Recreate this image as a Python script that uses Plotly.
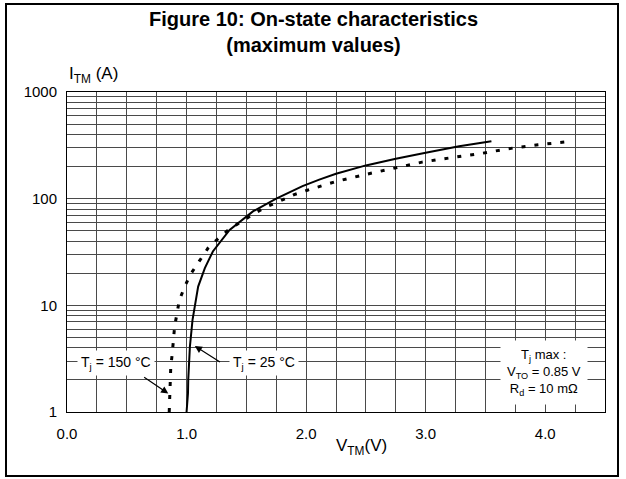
import math
import plotly.graph_objects as go

# ---- data ----
v_25c = [1.0, 1.012, 1.014, 1.028, 1.05, 1.07, 1.097, 1.153, 1.22, 1.36, 1.555, 1.75,
         1.97, 2.11, 2.25, 2.5, 2.75, 3.0, 3.28, 3.55]
i_25c = [1.0, 1.5, 2.0, 4.1, 7.3, 10.4, 15, 22.3, 32, 51, 76, 100,
         131, 151, 171, 205, 237, 269, 310, 346]

v_150c = [0.855, 0.86, 0.868, 0.88, 0.888, 0.9, 0.92, 0.94, 0.985, 1.03, 1.105, 1.18,
          1.27, 1.36, 1.57, 1.68, 1.79, 1.9, 2.01, 2.125, 2.26, 2.49, 2.74, 2.97,
          3.11, 3.46, 3.69, 3.94, 4.19]
i_150c = [1.0, 1.5, 2.65, 3.5, 4.7, 6.3, 8.4, 11.2, 15, 19.3, 25.8, 34.4,
          42.8, 52, 73, 85, 96, 109, 120, 131, 146, 168, 195, 220,
          233, 265, 294, 320, 342]

x_major = [0, 1, 2, 3, 4]
x_labels = ["0.0", "1.0", "2.0", "3.0", "4.0"]
x_minor = [k * 0.25 for k in range(19) if k % 4 != 0]
y_major = [1, 10, 100, 1000]
y_labels = ["1", "10", "100", "1000"]
y_minor = [m * 10 ** d for d in range(3) for m in range(2, 10)]

FONT = "Liberation Sans, Arial, sans-serif"

fig = go.Figure()
fig.add_trace(go.Scatter(x=v_25c, y=i_25c, mode="lines", line=dict(color="black", width=2),
                         showlegend=False, hoverinfo="skip"))
fig.add_trace(go.Scatter(x=v_150c, y=i_150c, mode="lines",
                         line=dict(color="black", width=3, dash="4px,9px"),
                         showlegend=False, hoverinfo="skip"))

GRID = "#4a4a4a"
fig.update_layout(
    width=626, height=479,
    margin=dict(l=67, r=21, t=92, b=67),
    paper_bgcolor="white", plot_bgcolor="white",
    font=dict(family=FONT, color="black", size=15),
    xaxis=dict(range=[0, 4.5], tickmode="array", tickvals=x_major, ticktext=x_labels,
               showgrid=True, gridcolor=GRID, gridwidth=1, zeroline=False,
               minor=dict(tickvals=x_minor, showgrid=True, gridcolor=GRID, gridwidth=1, ticks=""),
               showline=True, linecolor="black", linewidth=1, mirror=True,
               ticks="", ticklabelstandoff=8, tickfont=dict(size=15)),
    yaxis=dict(type="log", range=[0, 3], tickmode="array", tickvals=y_major, ticktext=y_labels,
               showgrid=True, gridcolor=GRID, gridwidth=1, zeroline=False,
               minor=dict(tickvals=y_minor, showgrid=True, gridcolor=GRID, gridwidth=1, ticks=""),
               showline=True, linecolor="black", linewidth=1, mirror=True,
               ticks="", ticklabelstandoff=6, tickfont=dict(size=15)),
)

annotations = [
    dict(text="<b>Figure 10: On-state characteristics<br>(maximum values)</b>",
         xref="paper", yref="paper", x=0.459, y=1.186, xanchor="center", yanchor="middle",
         showarrow=False, font=dict(size=20, family=FONT)),
    dict(text="I<sub>TM</sub> (A)", xref="paper", yref="paper", x=0.0, y=1.053,
         xanchor="left", yanchor="middle", showarrow=False, font=dict(size=17)),
    dict(text="V<sub>TM</sub>(V)", xref="paper", yref="paper", x=0.548, y=-0.11,
         xanchor="center", yanchor="middle", showarrow=False, font=dict(size=17)),
    dict(text="T<sub>j</sub> = 150 °C", xref="x", yref="y", x=0.41, y=math.log10(2.87),
         showarrow=False, bgcolor="white", borderpad=3, font=dict(size=14)),
    dict(text="T<sub>j</sub> = 25 °C", xref="x", yref="y", x=1.645, y=math.log10(2.87),
         showarrow=False, bgcolor="white", borderpad=3, font=dict(size=14)),
    dict(text="T<sub>j</sub> max :<br>V<sub>TO</sub> = 0.85 V<br>R<sub>d</sub> = 10 mΩ",
         xref="x", yref="y", x=3.99, y=0.373, showarrow=False, bgcolor="white",
         borderpad=6, font=dict(size=13)),
    dict(text="", xref="x", yref="y", axref="x", ayref="y",
         x=0.847, y=math.log10(1.49), ax=0.633, ay=math.log10(2.17),
         showarrow=True, arrowhead=2, arrowsize=1.2, arrowwidth=1.2, arrowcolor="black"),
    dict(text="", xref="x", yref="y", axref="x", ayref="y",
         x=1.069, y=math.log10(4.15), ax=1.292, ay=math.log10(2.89),
         showarrow=True, arrowhead=2, arrowsize=1.2, arrowwidth=1.2, arrowcolor="black"),
]
fig.update_layout(annotations=annotations)

fig.add_shape(type="rect", xref="paper", yref="paper",
              x0=(6 - 67) / 538, x1=(618 - 67) / 538,
              y0=(412 - 476) / 320, y1=(412 - 4) / 320,
              line=dict(color="black", width=2), fillcolor="rgba(0,0,0,0)", layer="above")

fig.write_html("out.html", config={"displayModeBar": False},
               post_script="document.body.style.margin='0';document.body.style.overflow='hidden';")
